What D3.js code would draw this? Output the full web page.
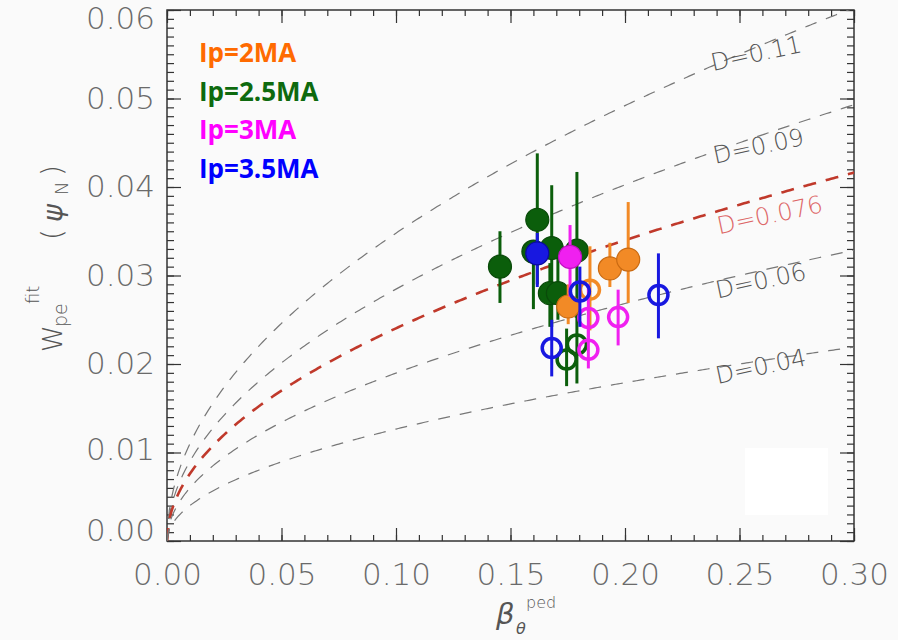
<!DOCTYPE html>
<html>
<head>
<meta charset="utf-8">
<script src="https://cdn.jsdelivr.net/npm/d3@7"></script>
<style>
  body { margin: 0; background: #fafafa; }
  svg { display: block; }
  .tick text { font-family: "DejaVu Sans", sans-serif; font-weight: 200; fill: #6a6a6a; }
  .domain { display: none; }
</style>
</head>
<body>
<div id="chart"></div>
<script>
// curve constants: W = D * sqrt(beta)
var curveD = [0.11, 0.09, 0.076, 0.06, 0.04];
var curveLabels = ["D=0.11", "D=0.09", "D=0.076", "D=0.06", "D=0.04"];

// tick values
var xMajor = [0, 0.05, 0.10, 0.15, 0.20, 0.25, 0.30];
var yMajor = [0, 0.01, 0.02, 0.03, 0.04, 0.05, 0.06];

// legend
var legendText = ["Ip=2MA", "Ip=2.5MA", "Ip=3MA", "Ip=3.5MA"];
var legendColors = ["#ff6a00", "#0e6a0e", "#ff00ff", "#0000ff"];

// points: [beta, W, low, high, filled]
var ip25 = [
    [0.1454, 0.0310, 0.0269, 0.0350, 1],
    [0.1617, 0.0363, 0.0290, 0.0438, 1],
    [0.1600, 0.0327, 0.0262, 0.0335, 1],
    [0.1680, 0.0331, 0.0242, 0.0402, 1],
    [0.1672, 0.0280, 0.0242, 0.0314, 1],
    [0.1707, 0.0280, 0.0250, 0.0320, 1],
    [0.1790, 0.0328, 0.0252, 0.0417, 1],
    [0.1745, 0.0205, 0.0175, 0.0240, 0],
    [0.1790, 0.0222, 0.0178, 0.0255, 0]
];
var ip2 = [
    [0.1752, 0.0265, 0.0245, 0.0290, 1],
    [0.1934, 0.0308, 0.0287, 0.0337, 1],
    [0.2014, 0.0318, 0.0269, 0.0383, 1],
    [0.1847, 0.0284, 0.0238, 0.0333, 0]
];
var ip3 = [
    [0.1760, 0.0321, 0.0276, 0.0357, 1],
    [0.1840, 0.0252, 0.0225, 0.0290, 0],
    [0.1970, 0.0253, 0.0221, 0.0284, 0],
    [0.1840, 0.0216, 0.0195, 0.0240, 0]
];
var ip35 = [
    [0.1617, 0.0325, 0.0287, 0.0348, 1],
    [0.1803, 0.0282, 0.0242, 0.0310, 0],
    [0.1680, 0.0218, 0.0186, 0.0250, 0],
    [0.2146, 0.0278, 0.0229, 0.0325, 0]
];

var svgWidth = 898;
var svgHeight = 640;
var margin = {top: 10, right: 44, bottom: 99, left: 167};
var chartWidth = svgWidth - margin.left - margin.right;
var chartHeight = svgHeight - margin.top - margin.bottom;

var svg = d3.select("#chart").append("svg")
    .attr("width", svgWidth)
    .attr("height", svgHeight);

// odd white patch in the original, bottom right
svg.append("rect")
    .attr("x", 745).attr("y", 448).attr("width", 83).attr("height", 67)
    .attr("fill", "#ffffff");

var chartGroup = svg.append("g").attr("transform", `translate(${margin.left}, ${margin.top})`);

var x = d3.scaleLinear().domain([0, 0.30]).range([0, chartWidth]);
var y = d3.scaleLinear().domain([0, 0.06]).range([chartHeight, 0]);

var xMinor = d3.range(0, 0.3001, 0.01);
var yMinor = d3.range(0, 0.0601, 0.001);

// axes, ticks point inward
function addAxis(axis, transform, values, size, labels) {
    var g = chartGroup.append("g").attr("transform", transform)
        .call(axis.tickValues(values).tickSize(-size).tickFormat(labels ? d3.format(".2f") : ""));
    g.selectAll("line").attr("stroke", "#333").attr("stroke-width", 1.2);
    return g;
}
var bottomLab = addAxis(d3.axisBottom(x).tickPadding(22), `translate(0, ${chartHeight})`, xMajor, 13, true);
addAxis(d3.axisBottom(x), `translate(0, ${chartHeight})`, xMinor, 6, false);
addAxis(d3.axisTop(x), "translate(0,0)", xMajor, 13, false);
addAxis(d3.axisTop(x), "translate(0,0)", xMinor, 6, false);
var leftLab = addAxis(d3.axisLeft(y).tickPadding(12), "translate(0,0)", yMajor, 14, true);
addAxis(d3.axisLeft(y), "translate(0,0)", yMinor, 7, false);
addAxis(d3.axisRight(y), `translate(${chartWidth}, 0)`, yMajor, 14, false);
addAxis(d3.axisRight(y), `translate(${chartWidth}, 0)`, yMinor, 7, false);
bottomLab.selectAll("text").attr("font-size", 31);
// end labels sit a bit inside the frame, as in the original
leftLab.selectAll("text").attr("font-size", 31)
    .attr("y", d => d === 0.06 ? 9 : (d === 0 ? -10 : (d === 0.01 ? -3 : 0)));

chartGroup.append("rect")
    .attr("width", chartWidth).attr("height", chartHeight)
    .attr("fill", "none").attr("stroke", "#333").attr("stroke-width", 1.5);

// D curves
chartGroup.append("clipPath").attr("id", "clip")
    .append("rect").attr("width", chartWidth).attr("height", chartHeight);

var betas = d3.range(0, 0.3001, 0.001);
var line = d3.line().x(d => x(d[0])).y(d => y(d[1]));

curveD.forEach(function(D, i) {
    var red = D === 0.076;
    chartGroup.append("path")
        .attr("clip-path", "url(#clip)")
        .attr("d", line(betas.map(b => [b, D * Math.sqrt(b)])))
        .attr("fill", "none")
        .attr("stroke", red ? "#c0392b" : "#777")
        .attr("stroke-width", red ? 2.6 : 1.2)
        .attr("stroke-dasharray", red ? "13,10" : "12,10");
});

// curve labels
var labelBeta = [0.258, 0.259, 0.264, 0.260, 0.260];
var labelOffset = [14, 17, 23, 17, 13];
curveLabels.forEach(function(t, i) {
    var px = x(labelBeta[i]);
    var py = y(curveD[i] * Math.sqrt(0.257)) + labelOffset[i];
    chartGroup.append("text")
        .attr("transform", `translate(${px}, ${py}) rotate(-12)`)
        .attr("text-anchor", "middle")
        .attr("font-family", "DejaVu Sans, sans-serif")
        .attr("font-weight", 200)
        .attr("font-size", 24)
        .attr("fill", curveD[i] === 0.076 ? "#d66" : "#555")
        .text(t);
});

// points with error bars
function drawSeries(data, color, edge) {
    var g = chartGroup.append("g");
    g.selectAll(".err").data(data).enter().append("line")
        .attr("x1", d => x(d[0])).attr("x2", d => x(d[0]))
        .attr("y1", d => y(d[2])).attr("y2", d => y(d[3]))
        .attr("stroke", color).attr("stroke-width", 3);
    g.selectAll(".pt").data(data).enter().append("circle")
        .attr("cx", d => x(d[0])).attr("cy", d => y(d[1]))
        .attr("r", d => d[4] ? 11.5 : 9.5)
        .attr("fill", d => d[4] ? color : "none")
        .attr("stroke", d => d[4] ? edge : color)
        .attr("stroke-width", d => d[4] ? 1.2 : 3.5);
}
drawSeries(ip25, "#0b5e0b", "#0a4a0a");
drawSeries(ip2, "#f28a26", "#c96a12");
drawSeries(ip3, "#f020f0", "#c010c0");
drawSeries(ip35, "#1818e0", "#0a0aa0");

// legend
legendText.forEach(function(t, i) {
    svg.append("text")
        .attr("x", 199).attr("y", 62 + i * 38.5)
        .attr("font-family", "Open Sans, sans-serif")
        .attr("font-weight", "bold")
        .attr("font-size", 26)
        .attr("fill", legendColors[i])
        .text(t);
});

// y title, rotated
var yTitle = svg.append("g").attr("transform", "translate(62, 352) rotate(-90)")
    .attr("font-family", "DejaVu Sans, sans-serif").attr("font-weight", 200).attr("fill", "#555");
yTitle.append("text").attr("x", 0).attr("y", 0).attr("font-size", 27).text("W");
yTitle.append("text").attr("x", 25).attr("y", 5).attr("font-size", 19).text("pe");
yTitle.append("text").attr("x", 48).attr("y", -23).attr("font-size", 18).text("fit");
yTitle.append("text").attr("x", 112).attr("y", 0).attr("font-size", 28).text("(");
yTitle.append("text").attr("x", 130).attr("y", 0).attr("font-size", 27).attr("font-style", "italic").text("ψ");
yTitle.append("text").attr("x", 157).attr("y", 6).attr("font-size", 18).text("N");
yTitle.append("text").attr("x", 176).attr("y", 0).attr("font-size", 28).text(")");

// x title
var xTitle = svg.append("g")
    .attr("font-family", "DejaVu Sans, sans-serif").attr("font-weight", 200).attr("fill", "#555");
xTitle.append("text").attr("x", 496).attr("y", 624).attr("font-size", 29).attr("font-style", "italic").text("β");
xTitle.append("text").attr("x", 516).attr("y", 634).attr("font-size", 16).attr("font-style", "italic").text("θ");
xTitle.append("text").attr("x", 526).attr("y", 608).attr("font-size", 16).text("ped");
</script>
</body>
</html>
